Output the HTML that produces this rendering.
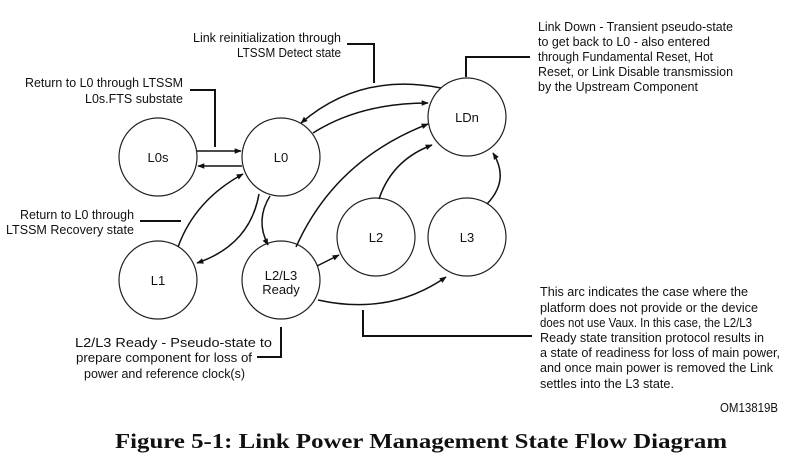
<!DOCTYPE html>
<html><head><style>
body{margin:0;background:#fff;}
svg{display:block;}
text{font-family:"Liberation Sans",sans-serif;font-size:13px;fill:#111;}
</style></head><body>
<svg width="810" height="469" viewBox="0 0 810 469">
<defs>
<marker id="a" viewBox="0 0 10 10" refX="9" refY="5" markerWidth="9" markerHeight="7" orient="auto" markerUnits="userSpaceOnUse"><path d="M0,1 L10,5 L0,9 z" fill="#111"/></marker>
</defs>
<g fill="none" stroke="#222" stroke-width="1.2">
<circle cx="158" cy="157" r="39"/>
<circle cx="281" cy="157" r="39"/>
<circle cx="467" cy="117" r="39"/>
<circle cx="376" cy="237" r="39"/>
<circle cx="467" cy="237" r="39"/>
<circle cx="158" cy="280" r="39"/>
<circle cx="281" cy="280" r="39"/>
</g>
<g fill="none" stroke="#111" stroke-width="1.5">
<line x1="197" y1="151" x2="241" y2="151" marker-end="url(#a)"/>
<line x1="242" y1="166" x2="198" y2="166" marker-end="url(#a)"/>
<path d="M441,88 Q360,72 301,123" marker-end="url(#a)"/>
<path d="M313,133 Q360,103 428,103" marker-end="url(#a)"/>
<path d="M296,247 Q335,160 428,124" marker-end="url(#a)"/>
<path d="M379,199 Q392,160 432,145" marker-end="url(#a)"/>
<path d="M487,204 Q510,180 493,153" marker-end="url(#a)"/>
<path d="M270,196 Q255,220 268,245" marker-end="url(#a)"/>
<path d="M178,247 Q195,200 243,174" marker-end="url(#a)"/>
<path d="M259,194 Q250,245 197,263" marker-end="url(#a)"/>
<path d="M317,266 L339,255" marker-end="url(#a)"/>
<path d="M318,300 Q390,316 446,277" marker-end="url(#a)"/>
</g>
<g fill="none" stroke="#111" stroke-width="2">
<polyline points="347,44 374,44 374,83"/>
<polyline points="190,90 215,90 215,147"/>
<line x1="140" y1="221" x2="181" y2="221"/>
<polyline points="466,77 466,57 530,57"/>
<polyline points="363,310 363,336 532,336"/>
<polyline points="281,327 281,357 257,357"/>
</g>
<text x="158" y="162" text-anchor="middle">L0s</text>
<text x="281" y="162" text-anchor="middle">L0</text>
<text x="467" y="122" text-anchor="middle">LDn</text>
<text x="376" y="242" text-anchor="middle">L2</text>
<text x="467" y="242" text-anchor="middle">L3</text>
<text x="158" y="285" text-anchor="middle">L1</text>
<text x="281" y="280" text-anchor="middle">L2/L3</text>
<text x="281" y="294" text-anchor="middle">Ready</text>
<g text-anchor="end">
<text x="341" y="42" textLength="148" lengthAdjust="spacingAndGlyphs">Link reinitialization through</text>
<text x="341" y="57" textLength="104" lengthAdjust="spacingAndGlyphs">LTSSM Detect state</text>
<text x="183" y="87" textLength="158" lengthAdjust="spacingAndGlyphs">Return to L0 through LTSSM</text>
<text x="183" y="103" textLength="98" lengthAdjust="spacingAndGlyphs">L0s.FTS substate</text>
<text x="134" y="219" textLength="114" lengthAdjust="spacingAndGlyphs">Return to L0 through</text>
<text x="134" y="234" textLength="128" lengthAdjust="spacingAndGlyphs">LTSSM Recovery state</text>
<text x="272" y="347" textLength="197" lengthAdjust="spacingAndGlyphs">L2/L3 Ready - Pseudo-state to</text>
<text x="252" y="362" textLength="176" lengthAdjust="spacingAndGlyphs">prepare component for loss of</text>
<text x="245" y="378" textLength="161" lengthAdjust="spacingAndGlyphs">power and reference clock(s)</text>
<text x="778" y="412" font-size="11" textLength="58" lengthAdjust="spacingAndGlyphs">OM13819B</text>
</g>
<g>
<text x="538" y="31" textLength="195" lengthAdjust="spacingAndGlyphs">Link Down - Transient pseudo-state</text>
<text x="538" y="46" textLength="172" lengthAdjust="spacingAndGlyphs">to get back to L0 - also entered</text>
<text x="538" y="61" textLength="175" lengthAdjust="spacingAndGlyphs">through Fundamental Reset, Hot</text>
<text x="538" y="76" textLength="195" lengthAdjust="spacingAndGlyphs">Reset, or Link Disable transmission</text>
<text x="538" y="91" textLength="160" lengthAdjust="spacingAndGlyphs">by the Upstream Component</text>
<text x="540" y="296" textLength="208" lengthAdjust="spacingAndGlyphs">This arc indicates the case where the</text>
<text x="540" y="312" textLength="218" lengthAdjust="spacingAndGlyphs">platform does not provide or the device</text>
<text x="540" y="327" textLength="212" lengthAdjust="spacingAndGlyphs">does not use Vaux. In this case, the L2/L3</text>
<text x="540" y="342" textLength="224" lengthAdjust="spacingAndGlyphs">Ready state transition protocol results in</text>
<text x="540" y="357" textLength="240" lengthAdjust="spacingAndGlyphs">a state of readiness for loss of main power,</text>
<text x="540" y="372" textLength="233" lengthAdjust="spacingAndGlyphs">and once main power is removed the Link</text>
<text x="540" y="388" textLength="134" lengthAdjust="spacingAndGlyphs">settles into the L3 state.</text>
</g>
<text x="115" y="448" style="font-family:'Liberation Serif',serif;font-size:21px;font-weight:bold" textLength="612" lengthAdjust="spacingAndGlyphs">Figure 5-1:  Link Power Management State Flow Diagram</text>
</svg>
</body></html>
